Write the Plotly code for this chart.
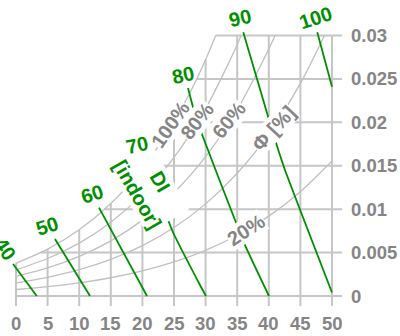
import plotly.graph_objects as go

# ---------------- data ----------------
temp_ticks = [0, 5, 10, 15, 20, 25, 30, 35, 40, 45, 50]
w_ticks = [0, 0.005, 0.01, 0.015, 0.02, 0.025, 0.03]
w_tick_labels = ['0', '0.005', '0.01', '0.015', '0.02', '0.025', '0.03']

# grid clipped under the saturation curve
grid_top_w = [0.0038, 0.0054, 0.0076, 0.0107, 0.0147, 0.0201, 0.0272, 0.03, 0.03, 0.03, 0.03]
grid_start_t = [0, 3.9, 14.0, 20.3, 24.9, 28.6, 31.6]

# relative humidity curves (temperature, humidity ratio)
rh_100_t = [0, 5, 10, 15, 20, 25, 27.5, 30, 31.6]
rh_100_w = [0.00378, 0.00540, 0.00763, 0.01065, 0.01470, 0.02009, 0.02338, 0.02721, 0.0300]
rh_80_t = [0, 5, 10, 15, 20, 25, 30, 35, 35.6]
rh_80_w = [0.00302, 0.00432, 0.00609, 0.00849, 0.01170, 0.01597, 0.02158, 0.02893, 0.0300]
rh_60_t = [0, 5, 10, 15, 20, 25, 30, 35, 40, 41.0]
rh_60_w = [0.00226, 0.00323, 0.00456, 0.00635, 0.00874, 0.01190, 0.01605, 0.02145, 0.02844, 0.0300]
rh_40_t = [0, 5, 10, 15, 20, 25, 30, 35, 40, 45, 48.8]
rh_40_w = [0.00150, 0.00215, 0.00303, 0.00422, 0.00580, 0.00788, 0.01061, 0.01414, 0.01868, 0.02449, 0.0300]
rh_20_t = [0, 5, 10, 15, 20, 25, 30, 35, 40, 45, 50]
rh_20_w = [0.00075, 0.00107, 0.00151, 0.00210, 0.00289, 0.00392, 0.00526, 0.00699, 0.00920, 0.01201, 0.01554]

# discomfort index lines
di_40_t = [-0.47, 3.28]
di_40_w = [0.00369, 0.0]
di_50_t = [6.17, 11.71]
di_50_w = [0.00656, 0.0]
di_60_t = [13.13, 20.73]
di_60_w = [0.01017, 0.0]
di_70_t = [20.09, 22.47, 24.68, 29.11, 30.06]
di_70_w = [0.01589, 0.01198, 0.00760, 0.00127, 0.0]
di_80_t = [27.22, 28.0, 29.59, 34.65, 36.23, 40.03]
di_80_w = [0.02395, 0.02177, 0.01831, 0.00875, 0.00587, 0.0]
di_90_t = [35.96, 39.72, 41.30, 42.56, 50.0]
di_90_w = [0.03037, 0.02107, 0.01727, 0.01451, 0.0004]
di_100_t = [47.67, 50.0]
di_100_w = [0.03037, 0.0241]

di_levels = ['40', '50', '60', '70', '80', '90', '100']
rh_labels = ['100%', '80%', '60%', 'Φ [%]', '20%']

# ---------------- styling / placement ----------------
GRID = '#c6c6c6'
CURVE = '#c0c0c0'
GREEN = '#008f00'
GRAY = '#858585'
FONT = 'Liberation Sans, Arial, sans-serif'
TICK_T = 1.58      # tick stub length in °C units (10 px)
TICK_W = 0.00115   # tick stub length in humidity units (10 px)

fig = go.Figure()

# vertical grid (with tick stubs below the 0 line)
vx, vy = [], []
for t, top in zip(temp_ticks, grid_top_w):
    vx += [t, t, None]
    vy += [-TICK_W, top, None]
fig.add_trace(go.Scatter(x=vx, y=vy, mode='lines', line=dict(color=GRID, width=2),
                         hoverinfo='skip', showlegend=False))
# horizontal grid (with tick stubs right of 50)
hx, hy = [], []
for w, t0 in zip(w_ticks, grid_start_t):
    hx += [t0, 50 + TICK_T, None]
    hy += [w, w, None]
fig.add_trace(go.Scatter(x=hx, y=hy, mode='lines', line=dict(color=GRID, width=2),
                         hoverinfo='skip', showlegend=False))

for tt, ww in [(rh_100_t, rh_100_w), (rh_80_t, rh_80_w), (rh_60_t, rh_60_w),
               (rh_40_t, rh_40_w), (rh_20_t, rh_20_w)]:
    fig.add_trace(go.Scatter(x=tt, y=ww, mode='lines',
                             line=dict(color=CURVE, width=1.3, shape='spline', smoothing=0.8),
                             hoverinfo='skip', showlegend=False))

for tt, ww in [(di_40_t, di_40_w), (di_50_t, di_50_w), (di_60_t, di_60_w), (di_70_t, di_70_w),
               (di_80_t, di_80_w), (di_90_t, di_90_w), (di_100_t, di_100_w)]:
    fig.add_trace(go.Scatter(x=tt, y=ww, mode='lines',
                             line=dict(color=GREEN, width=1.8, shape='spline', smoothing=0.5),
                             hoverinfo='skip', showlegend=False))

annotations = []
label_font = dict(family=FONT, size=20, weight='bold')
tick_font = dict(family=FONT, size=18.5, color=GRAY, weight='bold')

# labels with white background first, so plain labels stay on top
annotations.append(dict(x=21.0, y=0.01244, text='DI<br>[indoor]', showarrow=False, textangle=60,
                        font=dict(label_font, color=GREEN),
                        bgcolor='white', borderpad=0, xanchor='center', yanchor='middle'))

rh_label_pos = [(24.37, 0.01969, -55), (28.64, 0.02015, -52), (33.70, 0.02027, -51),
                (40.82, 0.01935, -47), (36.39, 0.0076, -33)]
for txt, (x, y, a) in zip(rh_labels, rh_label_pos):
    annotations.append(dict(x=x, y=y, text=txt, showarrow=False, textangle=a,
                            font=dict(label_font, color=GRAY),
                            bgcolor='white', borderpad=0, xanchor='center', yanchor='middle'))

di_label_pos = [(-1.74, 0.00541, 55), (4.91, 0.00806, -18), (12.03, 0.01175, -18),
                (19.15, 0.01739, -12), (26.42, 0.02545, -12), (35.44, 0.03201, -13),
                (47.31, 0.03201, -18)]
for txt, (x, y, a) in zip(di_levels, di_label_pos):
    annotations.append(dict(x=x, y=y, text=txt, showarrow=False, textangle=a,
                            font=dict(label_font, color=GREEN), borderpad=0,
                            xanchor='center', yanchor='middle'))

# axis tick labels
for t in temp_ticks:
    annotations.append(dict(x=t, y=-0.00322, text=str(t), showarrow=False, font=tick_font,
                            xanchor='center', yanchor='middle', borderpad=0))
for w, lab in zip(w_ticks, w_tick_labels):
    annotations.append(dict(x=52.9, y=w, text=lab, showarrow=False, font=tick_font,
                            xanchor='left', yanchor='middle', borderpad=0))

fig.update_layout(
    width=400, height=336,
    margin=dict(l=0, r=0, t=0, b=0, pad=0),
    paper_bgcolor='white', plot_bgcolor='white',
    showlegend=False,
    annotations=annotations,
    xaxis=dict(range=[-2.5316, 60.759], visible=False, automargin=False, fixedrange=True),
    yaxis=dict(range=[-0.0046065, 0.034088], visible=False, automargin=False, fixedrange=True),
)

fig.write_html('out.html', config={'displayModeBar': False},
               post_script="document.body.style.margin='0';document.body.style.overflow='hidden';")
